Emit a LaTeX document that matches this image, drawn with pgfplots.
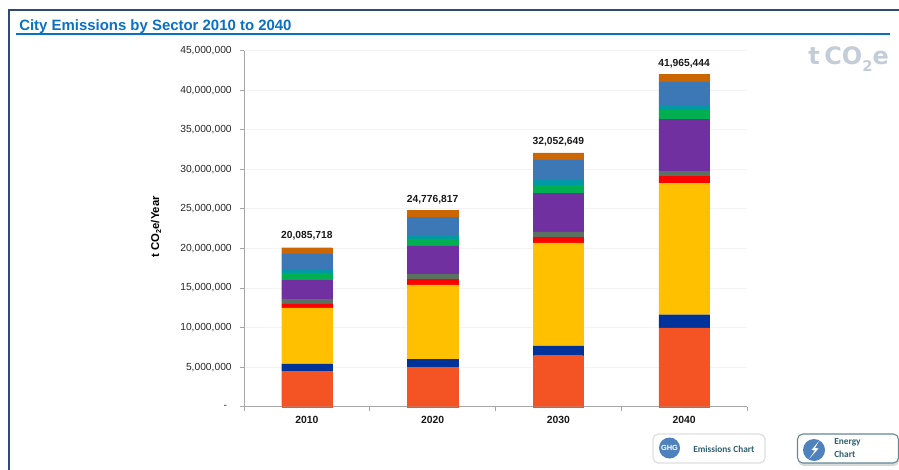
\documentclass[border=0pt]{standalone}
\usepackage{pgfplots}
\usepackage{pgfplotstable}
\usepackage{fontspec}
\pgfplotsset{compat=1.18}
\setmainfont{Liberation Sans}
\newfontfamily\carlito{Carlito}
\newfontfamily\dejavu{DejaVu Sans}

\definecolor{frameblue}{HTML}{2F4A75}
\definecolor{titleblue}{HTML}{0A70C4}
\definecolor{axisgrey}{HTML}{A6A6A6}
\definecolor{gridgrey}{HTML}{F3F3F3}
\definecolor{waterm}{HTML}{C3CDD8}
\definecolor{btntext}{HTML}{2F6070}
\definecolor{btncircle}{HTML}{4F81BD}
\definecolor{sTransport}{HTML}{F45324}
\definecolor{sNavy}{HTML}{003399}
\definecolor{sYellow}{HTML}{FFC000}
\definecolor{sRed}{HTML}{FF0000}
\definecolor{sGrey}{HTML}{5C7260}
\definecolor{sPurple}{HTML}{7030A0}
\definecolor{sGreen}{HTML}{00B050}
\definecolor{sTeal}{HTML}{0099A5}
\definecolor{sBlue}{HTML}{3D78B6}
\definecolor{sOrange}{HTML}{CC6600}

% Emissions by layer (t CO2e per year), bottom of the stack first
\pgfplotstableread{
x  a       b       c        d      e      f       g      h      i       j      total
0  4500000 900000  7100000  500000 600000 2400000 850000 400000 2050000 785718 20,085,718
1  5010000 1010000 9380000  730000 570000 3630000 870000 480000 2270000 826817 24,776,817
2  6440000 1260000 13000000 730000 670000 4880000 970000 630000 2570000 902649 32,052,649
3  9970000 1650000 16580000 890000 670000 6570000 1170000 470000 3070000 925444 41,965,444
}\emissions

\begin{document}
\begin{tikzpicture}
\begin{axis}[
  at={(183pt,-305.025pt)}, anchor=south west,
  scale only axis, width=377.25pt, height=267.15pt,
  ybar stacked, bar width=37.8pt,
  xmin=-0.5, xmax=3.5, ymin=0, ymax=45000000,
  scaled y ticks=false,
  axis lines*=left,
  axis line style={axisgrey, line width=0.75pt, -},
  xtick={0,1,2,3},
  xticklabels={2010,2020,2030,2040},
  minor xtick={-0.5,0.5,1.5,2.5,3.5},
  major x tick style={draw=none},
  minor tick length=3pt,
  minor tick style={axisgrey, line width=0.6pt},
  xticklabel style={font=\fontsize{7.8}{9}\selectfont\bfseries, yshift=-0.8pt, text=black!90},
  ytick={0,5000000,10000000,15000000,20000000,25000000,30000000,35000000,40000000,45000000},
  yticklabels={{-\hspace*{3.5pt}},{5,000,000},{10,000,000},{15,000,000},{20,000,000},{25,000,000},{30,000,000},{35,000,000},{40,000,000},{45,000,000}},
  yticklabel style={font=\fontsize{7.7}{9}\selectfont, text=black!85, xshift=-2.7pt},
  major tick length=3pt,
  y tick style={axisgrey, line width=0.6pt},
  tick align=outside,
  ymajorgrids,
  grid style={gridgrey, line width=0.6pt},
  axis on top=false,
  ylabel={\bfseries t CO\raisebox{-0.35ex}{\fontsize{5.4}{5}\selectfont 2}e/Year},
  ylabel style={font=\fontsize{8.5}{9}\selectfont, at={(-66pt,135pt)}, anchor=center, rotate=0},
  clip=false,
]
\addplot[fill=sTransport, draw=sTransport, line width=0.15pt] table[x=x,y=a] {\emissions};
\addplot[fill=sNavy, draw=sNavy, line width=0.15pt] table[x=x,y=b] {\emissions};
\addplot[fill=sYellow, draw=sYellow, line width=0.15pt] table[x=x,y=c] {\emissions};
\addplot[fill=sRed, draw=sRed, line width=0.15pt] table[x=x,y=d] {\emissions};
\addplot[fill=sGrey, draw=sGrey, line width=0.15pt] table[x=x,y=e] {\emissions};
\addplot[fill=sPurple, draw=sPurple, line width=0.15pt] table[x=x,y=f] {\emissions};
\addplot[fill=sGreen, draw=sGreen, line width=0.15pt] table[x=x,y=g] {\emissions};
\addplot[fill=sTeal, draw=sTeal, line width=0.15pt] table[x=x,y=h] {\emissions};
\addplot[fill=sBlue, draw=sBlue, line width=0.15pt] table[x=x,y=i] {\emissions};
\addplot[fill=sOrange, draw=sOrange, line width=0.15pt,
  point meta=explicit symbolic,
  nodes near coords,
  nodes near coords style={anchor=south, font=\fontsize{7.7}{9}\selectfont\bfseries,
    text=black!90, yshift=7.6pt, inner sep=0pt}]
  table[x=x,y=j,meta=total] {\emissions};
\end{axis}

\begin{scope}[x=0.75pt,y=-0.75pt]
  % outer frame and title rule
  \fill[frameblue] (8.3,9.5) rectangle (899,11);
  \fill[frameblue] (8.3,9.5) rectangle (10.3,470);
  \fill[titleblue] (16,33.4) rectangle (890,35.4);
  \node[anchor=base west, inner sep=0pt, text=titleblue, font=\fontsize{11.2}{13}\selectfont\bfseries]
    at (19,30.5) {City Emissions by Sector 2010 to 2040};

  % unit watermark
  \node[anchor=base west, inner sep=0pt, text=waterm, font=\fontsize{18}{20}\dejavu\bfseries]
    at (808,65) {t\hspace{3.4pt}CO\raisebox{-0.5ex}{\fontsize{11}{11}\dejavu\bfseries 2}e};

  % emissions button
  \filldraw[draw=black!12, fill=white, line width=1pt, rounded corners=4pt]
    (653,434) rectangle (765,463);
  \fill[btncircle] (669.5,448) circle (10.5);
  \node[text=white, inner sep=0pt, font=\fontsize{5.6}{6}\selectfont\bfseries] at (669.5,447.5) {GHG};
  \node[anchor=west, inner sep=0pt, text=btntext, font=\fontsize{7}{8}\carlito\bfseries] at (693,449) {Emissions Chart};

  % energy button
  \fill[black!15, rounded corners=4pt] (798,437) rectangle (899,466);
  \filldraw[draw=btntext!75, fill=white, line width=0.8pt, rounded corners=4pt]
    (797.5,434) rectangle (898.5,463);
  \fill[btncircle] (814,450) circle (11);
  \fill[white] (819,441) -- (811.5,450) -- (815,450.5) -- (809,459) -- (818.5,448.5) -- (815,448) -- cycle;
  \node[anchor=west, inner sep=0pt, text=btntext, font=\fontsize{7}{8}\carlito\bfseries] at (834,442) {Energy};
  \node[anchor=west, inner sep=0pt, text=btntext, font=\fontsize{7}{8}\carlito\bfseries] at (834,454) {Chart};
\end{scope}

\pgfresetboundingbox
\path[use as bounding box] (0,0) rectangle (674.25pt,-352.5pt);
\end{tikzpicture}
\end{document}
